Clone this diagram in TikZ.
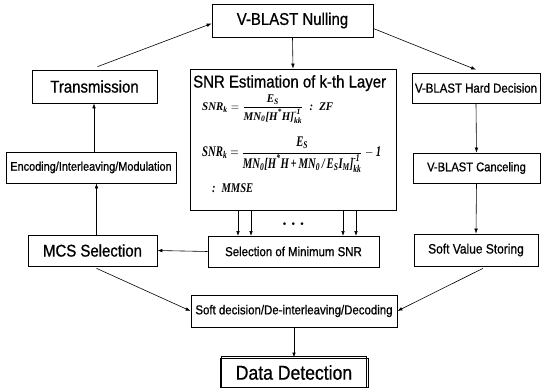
\documentclass[tikz,border=0pt]{standalone}
\usepackage{amsmath}
\usepackage[no-math]{fontspec}
\setmainfont{Liberation Sans}[FakeStretch=0.88, FakeBold=0.8]
\newfontfamily\fmlfont{Liberation Serif}
\usetikzlibrary{arrows.meta}
% bold italic serif symbols of the SNR formulas
\newcommand{\fv}[1]{\text{\fmlfont\bfseries\itshape #1}}
\newcommand{\zfsnr}{$\fv{SNR}_{\fv{k}}=\dfrac{\fv{E}_{\fv{S}}}{\fv{MN}_{\fv{0}}\fv{[H}^{\fv{*}}\fv{H]}^{\fv{-1}}_{\fv{kk}}}\;\;\fv{:}\;\;\fv{ZF}$}
\newcommand{\mmsesnr}{$\fv{SNR}_{\fv{k}}=\dfrac{\fv{E}_{\fv{S}}}{\fv{MN}_{\fv{0}}\fv{[H}^{\fv{*}}\fv{H\,+\,MN}_{\fv{0}}\fv{\,/\,E}_{\fv{S}}\fv{I}_{\fv{M}}\fv{]}^{\fv{-1}}_{\fv{kk}}}-\fv{1}$}
\newcommand{\mmsetag}{$\fv{:}\;\;\fv{MMSE}$}
\newcommand{\layerdots}{\mbox{\boldmath$\cdots$}}
\tikzset{
  box/.style={draw=black, line width=0.7pt, minimum height=31pt, inner sep=0pt, font=\fontsize{13}{15}\selectfont},
  bigbox/.style={box, font=\fontsize{17}{19}\selectfont},
  formula/.style={anchor=west, inner sep=0pt},
  arr/.style={draw=black, line width=0.6pt, -{Latex[length=5pt,width=3.6pt]}},
}
\begin{document}
\begin{tikzpicture}[x=1pt, y=-1pt]
\useasboundingbox (0,0) rectangle (542,388);
% top and left column
\node[bigbox, minimum width=161pt, minimum height=33pt] (null) at (292.5,20.5) {V-BLAST Nulling};
\node[bigbox, minimum width=125pt, minimum height=33pt] (trans) at (94.5,86.5) {Transmission};
\node[box, minimum width=170pt, font=\fontsize{12.4}{14}\selectfont] (enc) at (91,167.5) {Encoding/Interleaving/Modulation};
\node[bigbox, minimum width=129pt] (mcs) at (92.5,250.5) {MCS Selection};
% middle column
\node[draw=black, line width=0.7pt, minimum width=206pt, minimum height=141pt, inner sep=0pt] (snr) at (293,139.5) {};
\node[anchor=north west, inner sep=0pt, font=\fontsize{17}{19}\selectfont] (snrtitle) at (193,75) {SNR Estimation of k-th Layer};
\node[formula] (zf) at (202,109) {\resizebox*{131pt}{28pt}{\zfsnr}};
\node[formula] (mmse) at (202,154.5) {\resizebox*{179pt}{35pt}{\mmsesnr}};
\node[formula] (mmsetag) at (212,188) {\resizebox*{41pt}{9pt}{\mmsetag}};
\node[box, minimum width=171pt] (sel) at (293.5,251.5) {Selection of Minimum SNR};
\node[inner sep=0pt, font=\fontsize{16}{16}\selectfont] (dots) at (295,224) {\layerdots};
\node[box, minimum width=206pt, minimum height=32pt] (dec) at (294,311) {Soft decision/De-interleaving/Decoding};
\node[draw=black, line width=0.9pt, minimum width=148pt, minimum height=29pt, inner sep=0pt, font=\fontsize{20}{22}\selectfont] (data) at (294,372.5) {Data Detection};
\draw[line width=0.5pt] ([shift={(1.8pt,-1.8pt)}]data.south west) rectangle ([shift={(-1.8pt,1.8pt)}]data.north east);
% right column
\node[box, minimum width=128pt, minimum height=30pt] (hard) at (476,88) {V-BLAST Hard Decision};
\node[box, minimum width=127pt, minimum height=30pt, font=\fontsize{12.7}{14}\selectfont] (cancel) at (476.5,168) {V-BLAST Canceling};
\node[box, minimum width=124pt, minimum height=32pt, font=\fontsize{13.6}{15}\selectfont] (soft) at (476,250) {Soft Value Storing};
% connectors
\draw[arr] ([xshift=3pt,yshift=3pt]trans.north) -- ([yshift=-3pt]null.west);
\draw[arr] ([yshift=-8pt]null.east) -- ([yshift=3pt]hard.north);
\draw[arr] (null.south) -- (snr.north);
\draw[arr] ([xshift=3pt]enc.north) -- ([xshift=3pt]enc.north |- trans.south);
\draw[arr] ([xshift=4pt]mcs.north) -- ([xshift=4pt]mcs.north |- enc.south);
\draw[arr] (sel.west) -- (mcs.east);
\draw[arr] (238,210) -- (238,236);
\draw[arr] (251,210) -- (251,236);
\draw[arr] (343,210) -- (343,236);
\draw[arr] (356,210) -- (356,236);
\draw[arr] (hard.south) -- (cancel.north);
\draw[arr] (cancel.south) -- (soft.north);
\draw[arr] ([xshift=4pt,yshift=-2pt]mcs.south) -- (dec.west);
\draw[arr] ([xshift=7pt,yshift=-2pt]soft.south) -- (dec.east);
\draw[arr] (dec.south) -- (data.north);
\end{tikzpicture}
\end{document}
